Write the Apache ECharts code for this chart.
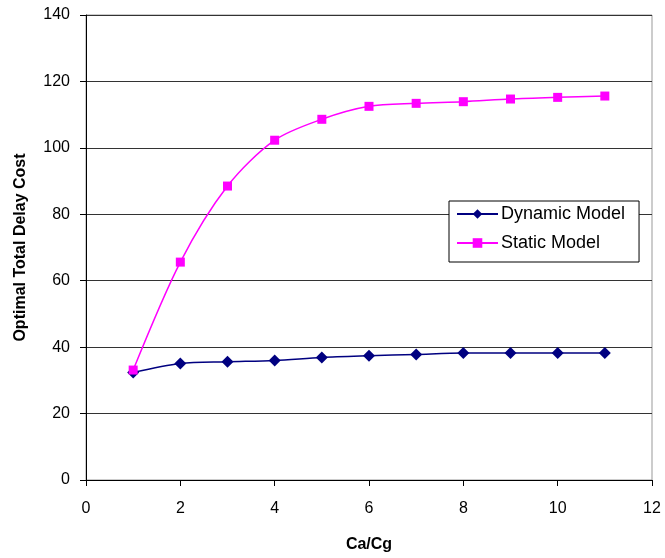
<!DOCTYPE html>
<html>
<head>
<meta charset="utf-8">
<script src="https://cdn.jsdelivr.net/npm/echarts@6/dist/echarts.min.js"></script>
<style>
  html, body { margin: 0; padding: 0; background: #fff; }
  #chart { width: 665px; height: 558px; }
</style>
</head>
<body>
<div id="chart"></div>
<script>
// Ratio of Ca to Cg on the horizontal axis
const ratios = [1, 2, 3, 4, 5, 6, 7, 8, 9, 10, 11];
// Optimal total delay cost for each model
const dynamicModel = [32.4, 35.1, 35.6, 36.0, 36.9, 37.4, 37.8, 38.2, 38.2, 38.2, 38.2];
const staticModel = [33.1, 65.6, 88.5, 102.3, 108.6, 112.5, 113.4, 113.9, 114.7, 115.2, 115.6];

const font = '"Liberation Sans", Arial, sans-serif';

const pairs = (xs, ys) => xs.map((x, i) => [x, ys[i]]);

const chart = echarts.init(document.getElementById('chart'), null, { renderer: 'canvas' });
chart.setOption({
  animation: false,
  backgroundColor: '#ffffff',
  grid: {
    left: 86, right: 13, top: 15, bottom: 78,
    show: true, borderColor: '#999999', borderWidth: 1, backgroundColor: 'transparent'
  },
  legend: {
    orient: 'vertical',
    left: 449, top: 201,
    padding: [4, 14, 10, 7],
    itemGap: 11,
    itemWidth: 41,
    itemHeight: 12,
    backgroundColor: '#ffffff',
    borderColor: '#000000',
    borderWidth: 1,
    borderRadius: 0,
    textStyle: { fontFamily: font, fontSize: 18, color: '#000000', padding: [0, 0, 0, -2] },
    data: ['Dynamic Model', 'Static Model']
  },
  xAxis: {
    type: 'value',
    min: 0, max: 12, interval: 2,
    name: 'Ca/Cg',
    nameLocation: 'middle',
    nameGap: 57,
    nameTextStyle: { fontFamily: font, fontSize: 16, fontWeight: 'bold', color: '#000' },
    axisLine: { show: true, lineStyle: { color: '#000', width: 1 } },
    axisTick: { show: true, length: 6, lineStyle: { color: '#000' } },
    axisLabel: { fontFamily: font, fontSize: 16, color: '#000', margin: 21 },
    splitLine: { show: false }
  },
  yAxis: {
    type: 'value',
    min: 0, max: 140, interval: 20,
    name: 'Optimal Total Delay Cost',
    nameLocation: 'middle',
    nameGap: 57,
    nameRotate: 90,
    nameTextStyle: { fontFamily: font, fontSize: 16, fontWeight: 'bold', color: '#000' },
    axisLine: { show: true, lineStyle: { color: '#000', width: 1 } },
    axisTick: { show: true, length: 6, lineStyle: { color: '#000' } },
    axisLabel: { fontFamily: font, fontSize: 16, color: '#000', margin: 16 },
    splitLine: { show: true, lineStyle: { color: '#333333', width: 1 } }
  },
  series: [
    {
      name: 'Dynamic Model',
      type: 'line',
      data: pairs(ratios, dynamicModel),
      smooth: 0.3,
      symbol: 'diamond',
      symbolSize: 12,
      showAllSymbol: true,
      lineStyle: { color: '#000080', width: 1.5 },
      itemStyle: { color: '#000080' },
      z: 3
    },
    {
      name: 'Static Model',
      type: 'line',
      data: pairs(ratios, staticModel),
      smooth: 0.3,
      symbol: 'rect',
      symbolSize: 9,
      showAllSymbol: true,
      lineStyle: { color: '#FF00FF', width: 1.5 },
      itemStyle: { color: '#FF00FF' },
      z: 4
    }
  ]
});
</script>
</body>
</html>
